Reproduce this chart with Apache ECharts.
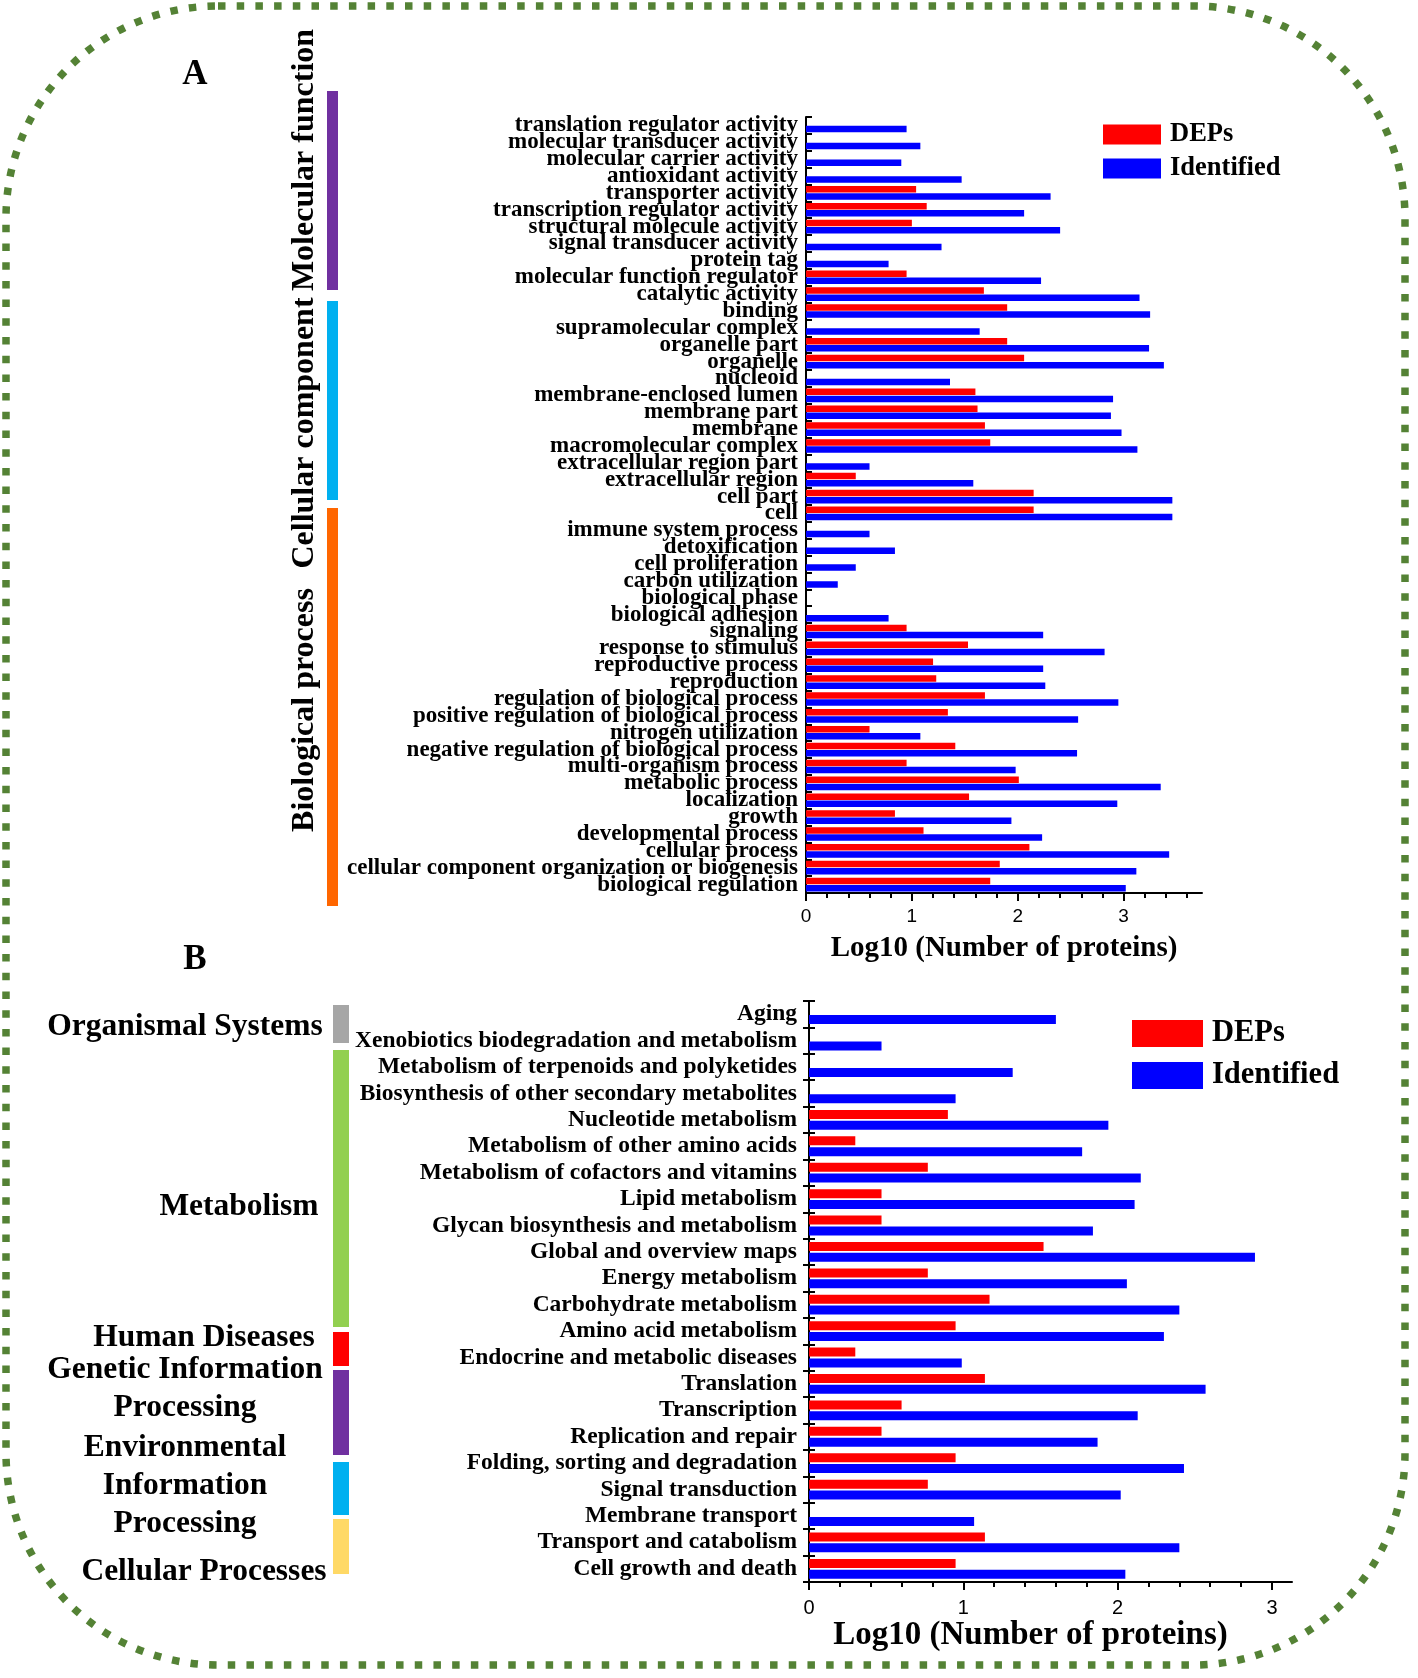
<!DOCTYPE html>
<html>
<head>
<meta charset="utf-8">
<title>GO and KEGG classification</title>
<script src="https://cdn.jsdelivr.net/npm/echarts@6/dist/echarts.min.js"></script>
</head>
<body style="margin:0;background:#fff">
<div id="main" style="width:1418px;height:1678px"></div>
<script>
// panel A: GO terms, top to bottom
var catsA = ['translation regulator activity', 'molecular transducer activity', 'molecular carrier activity', 'antioxidant activity',
  'transporter activity', 'transcription regulator activity', 'structural molecule activity', 'signal transducer activity',
  'protein tag', 'molecular function regulator', 'catalytic activity', 'binding', 'supramolecular complex', 'organelle part',
  'organelle', 'nucleoid', 'membrane-enclosed lumen', 'membrane part', 'membrane', 'macromolecular complex',
  'extracellular region part', 'extracellular region', 'cell part', 'cell', 'immune system process', 'detoxification',
  'cell proliferation', 'carbon utilization', 'biological phase', 'biological adhesion', 'signaling', 'response to stimulus',
  'reproductive process', 'reproduction', 'regulation of biological process', 'positive regulation of biological process',
  'nitrogen utilization', 'negative regulation of biological process', 'multi-organism process', 'metabolic process',
  'localization', 'growth', 'developmental process', 'cellular process', 'cellular component organization or biogenesis',
  'biological regulation'];
var depsA = [null, null, null, null, 1.04, 1.14, 1.00, null, null, 0.95, 1.68, 1.90, null, 1.90, 2.06, null, 1.60, 1.62, 1.69, 1.74,
  null, 0.47, 2.15, 2.15, null, null, null, null, null, null, 0.95, 1.53, 1.20, 1.23, 1.69, 1.34, 0.60, 1.41, 0.95, 2.01,
  1.54, 0.84, 1.11, 2.11, 1.83, 1.74];
var identA = [0.95, 1.08, 0.90, 1.47, 2.31, 2.06, 2.40, 1.28, 0.78, 2.22, 3.15, 3.25, 1.64, 3.24, 3.38, 1.36, 2.90, 2.88, 2.98, 3.13,
  0.60, 1.58, 3.46, 3.46, 0.60, 0.84, 0.47, 0.30, null, 0.78, 2.24, 2.82, 2.24, 2.26, 2.95, 2.57, 1.08, 2.56, 1.98, 3.35,
  2.94, 1.94, 2.23, 3.43, 3.12, 3.02];
var groupsA = ['Molecular function', 'Cellular component', 'Biological process'];
var groupColorsA = ['#7030a0', '#00b0f0', '#ff6600'];

// panel B: KEGG pathways, top to bottom
var catsB = ['Aging', 'Xenobiotics biodegradation and metabolism', 'Metabolism of terpenoids and polyketides',
  'Biosynthesis of other secondary metabolites', 'Nucleotide metabolism', 'Metabolism of other amino acids',
  'Metabolism of cofactors and vitamins', 'Lipid metabolism', 'Glycan biosynthesis and metabolism', 'Global and overview maps',
  'Energy metabolism', 'Carbohydrate metabolism', 'Amino acid metabolism', 'Endocrine and metabolic diseases', 'Translation',
  'Transcription', 'Replication and repair', 'Folding, sorting and degradation', 'Signal transduction', 'Membrane transport',
  'Transport and catabolism', 'Cell growth and death'];
var depsB = [null, null, null, null, 0.90, 0.30, 0.77, 0.47, 0.47, 1.52, 0.77, 1.17, 0.95, 0.30, 1.14, 0.60, 0.47, 0.95, 0.77, null, 1.14, 0.95];
var identB = [1.60, 0.47, 1.32, 0.95, 1.94, 1.77, 2.15, 2.11, 1.84, 2.89, 2.06, 2.40, 2.30, 0.99, 2.57, 2.13, 1.87, 2.43, 2.02, 1.07, 2.40, 2.05];
var groupsB = ['Organismal Systems', 'Metabolism', 'Human Diseases', 'Genetic Information\nProcessing',
  'Environmental\nInformation\nProcessing', 'Cellular Processes'];
var groupColorsB = ['#a6a6a6', '#92d050', '#ff0000', '#7030a0', '#00b0f0', '#ffd966'];

// x axis: labelled ticks, minor tick step and where minor ticks stop
var majorTicks = [0, 1, 2, 3];
var minorStep = 0.2;
var maxA = 3.74, minorEndA = 3.6;
var maxB = 3.13, minorEndB = 3;

var serif = '"Liberation Serif", "Times New Roman", serif';
var sans = '"Liberation Sans", Arial, sans-serif';
var lineStyle = { color: '#000', width: 2 };

// plot boxes
var boxPlotA = { left: 806, top: 117, width: 396, height: 776 };
var boxPlotB = { left: 809, top: 1001, width: 483, height: 581 };

function valueAxis(grid, max, name, nameSize, nameGap, labelSize, margin, shift) {
  return {
    type: 'value', gridIndex: grid, min: 0, max: max, position: 'bottom',
    name: name, nameLocation: 'middle', nameGap: nameGap,
    nameTextStyle: { fontFamily: serif, fontWeight: 'bold', fontSize: nameSize, color: '#000', padding: [0, shift, 0, 0] },
    axisLine: { show: true, lineStyle: lineStyle },
    axisTick: { show: true, length: 8, lineStyle: lineStyle, customValues: majorTicks },
    axisLabel: { customValues: majorTicks, fontFamily: sans, fontSize: labelSize, color: '#000', margin: margin },
    splitLine: { show: false }
  };
}
function minorAxis(grid, max) {
  return {
    type: 'value', gridIndex: grid, min: 0, max: max, interval: minorStep, position: 'bottom', silent: true,
    axisLine: { show: false },
    axisTick: { show: true, length: 5, lineStyle: lineStyle },
    axisLabel: { show: false },
    splitLine: { show: false }
  };
}
function catAxis(grid, cats, size, margin) {
  return {
    type: 'category', gridIndex: grid, data: cats, inverse: true, position: 'left',
    axisLine: { show: true, lineStyle: lineStyle },
    axisTick: { show: true, inside: true, length: 6, lineStyle: lineStyle },
    axisLabel: { interval: 0, fontFamily: serif, fontWeight: 'bold', fontSize: size, color: '#000', margin: margin }
  };
}
function minorGrid(box, max, end) {
  return { left: box.left, top: box.top, height: box.height, width: box.width * end / max };
}

var graphics = [];
function text(str, x, y, size, align, rot, lh) {
  graphics.push({
    type: 'text', x: x, y: y, rotation: rot || 0,
    style: { text: str, x: 0, y: 0, fill: '#000', font: 'bold ' + size + 'px ' + serif,
      textAlign: align, align: align, textVerticalAlign: 'middle', verticalAlign: 'middle', lineHeight: lh || size }
  });
}
function block(x, y, w, h, color) {
  graphics.push({ type: 'rect', shape: { x: x, y: y, width: w, height: h }, style: { fill: color } });
}

// dashed frame
graphics.push({
  type: 'rect', shape: { x: 6, y: 6, width: 1399, height: 1659, r: 212 },
  style: { fill: null, stroke: '#548235', lineWidth: 7.5, lineDash: [7.5, 11.2] }
});
text('A', 195, 75, 35, 'center');
text('B', 195, 960, 35, 'center');

// panel A group labels and bars
var boxA = [[91, 199], [301, 199], [508, 398]];
var labelYA = [160, 433, 710];
for (var i = 0; i < groupsA.length; i++) {
  block(327, boxA[i][0], 11, boxA[i][1], groupColorsA[i]);
  text(groupsA[i], 305, labelYA[i], 32, 'center', Math.PI / 2);
}
// panel B group labels and bars
var boxB = [[1005, 38], [1050, 277], [1332, 34], [1370, 85], [1462, 53], [1519, 55]];
var labelB = [[185, 1027], [239, 1207], [204, 1338], [185, 1389], [185, 1486], [204, 1572]];
for (var j = 0; j < groupsB.length; j++) {
  block(333, boxB[j][0], 16, boxB[j][1], groupColorsB[j]);
  text(groupsB[j], labelB[j][0], labelB[j][1], 31.5, 'center', 0, 38);
}

var option = {
  animation: false,
  backgroundColor: '#fff',
  grid: [
    boxPlotA,
    boxPlotB,
    minorGrid(boxPlotA, maxA, minorEndA),
    minorGrid(boxPlotB, maxB, minorEndB)
  ],
  legend: [
    { data: ['DEPs', 'Identified'], orient: 'vertical', left: 1103, top: 121, padding: 0, itemWidth: 58, itemHeight: 20, itemGap: 7,
      icon: 'rect', textStyle: { fontFamily: serif, fontWeight: 'bold', fontSize: 26.5, color: '#000', lineHeight: 20, padding: [0, 0, 0, 4] } },
    { data: ['DEPs', 'Identified'], orient: 'vertical', left: 1132, top: 1018, padding: 0, itemWidth: 71, itemHeight: 27, itemGap: 11,
      icon: 'rect', textStyle: { fontFamily: serif, fontWeight: 'bold', fontSize: 30.5, color: '#000', lineHeight: 27, padding: [0, 0, 0, 4] } }
  ],
  xAxis: [
    valueAxis(0, maxA, 'Log10 (Number of proteins)', 29, 41, 19, 14, 0),
    valueAxis(1, maxB, 'Log10 (Number of proteins)', 33, 34, 20, 16, 40),
    minorAxis(2, minorEndA),
    minorAxis(3, minorEndB)
  ],
  yAxis: [
    catAxis(0, catsA, 23, 8),
    catAxis(1, catsB, 23.5, 12),
    { type: 'value', gridIndex: 2, show: false },
    { type: 'category', gridIndex: 3, data: catsB, inverse: true, position: 'left', silent: true,
      axisLine: { show: false }, axisLabel: { show: false }, axisTick: { show: true, length: 6, lineStyle: lineStyle } }
  ],
  series: [
    { name: 'DEPs', type: 'bar', xAxisIndex: 0, yAxisIndex: 0, data: depsA, barWidth: 6.5, barGap: '10%', itemStyle: { color: '#ff0000' } },
    { name: 'Identified', type: 'bar', xAxisIndex: 0, yAxisIndex: 0, data: identA, barWidth: 6.5, barGap: '10%', itemStyle: { color: '#0000ff' } },
    { name: 'DEPs', type: 'bar', xAxisIndex: 1, yAxisIndex: 1, data: depsB, barWidth: 9, barGap: '20%', itemStyle: { color: '#ff0000' } },
    { name: 'Identified', type: 'bar', xAxisIndex: 1, yAxisIndex: 1, data: identB, barWidth: 9, barGap: '20%', itemStyle: { color: '#0000ff' } }
  ],
  graphic: { elements: graphics }
};

var myChart = echarts.init(document.getElementById('main'));
myChart.setOption(option);
</script>
</body>
</html>
